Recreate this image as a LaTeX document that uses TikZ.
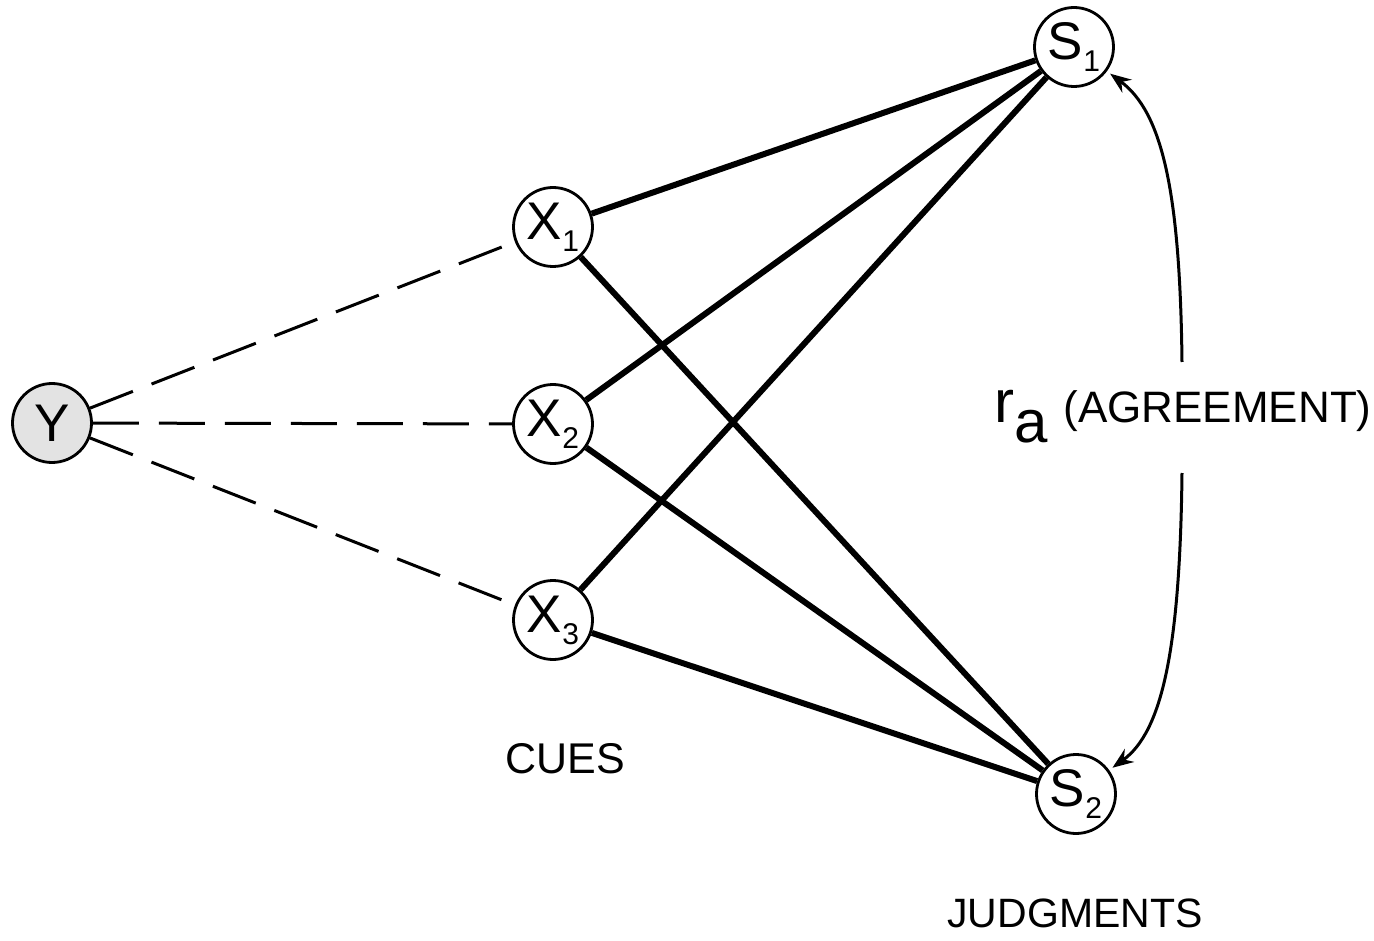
\documentclass[tikz,border=0pt]{standalone}
\usepackage{fontspec}
\setmainfont{Liberation Sans}
\usetikzlibrary{arrows.meta}
\newcommand\sublbl[2]{\fontsize{53}{53}\selectfont #1\raisebox{-12pt}{\fontsize{30}{30}\selectfont #2}}
\tikzset{
  cue/.style={circle, draw, line width=2.8pt, minimum size=79pt, inner sep=0pt, fill=white},
  crit/.style={cue, fill=gray!22},
  strong/.style={line width=6pt},
  weak/.style={line width=3pt, dash pattern=on 46pt off 20pt},
  txt/.style={inner sep=0pt, font=\fontsize{43}{43}\selectfont},
  agree/.style={-{Stealth[length=21pt,width=16pt,inset=7pt]}, line width=3pt}
}
\begin{document}
\begin{tikzpicture}[x=1pt,y=-1pt]
\useasboundingbox (0,0) rectangle (1374,941);
\node[crit] (Y) at (52,423) {\fontsize{53}{53}\selectfont Y};
\node[cue] (X1) at (553,227) {\sublbl{X}{1}};
\node[cue] (X2) at (553,424) {\sublbl{X}{2}};
\node[cue] (X3) at (553,620) {\sublbl{X}{3}};
\node[cue] (S1) at (1074,47) {\sublbl{S}{1}};
\node[cue] (S2) at (1076,794) {\sublbl{S}{2}};
\draw[weak] (Y) -- (X1);
\draw[weak] (Y) -- (X2);
\draw[weak] (Y) -- (X3);
\draw[strong] (X1) -- (S1);
\draw[strong] (X1) -- (S2);
\draw[strong] (X2) -- (S1);
\draw[strong] (X2) -- (S2);
\draw[strong] (X3) -- (S1);
\draw[strong] (X3) -- (S2);
\node[txt] (cues) at (565,759) {CUES};
\node[txt, font=\fontsize{41}{41}\selectfont] (judg) at (1075,913) {JUDGMENTS};
\node[inner sep=0pt, anchor=base west] (ra) at (994,422) {{\fontsize{60}{60}\selectfont r\raisebox{-20pt}{a}}\hspace{16pt}{\fontsize{44}{44}\selectfont (AGREEMENT)}};
\coordinate (ts) at (1182,362);
\coordinate (bs) at (1182,473);
\draw[agree, shorten >=4pt] (ts) .. controls (1180,190) and (1162,112) .. (S1);
\draw[agree, shorten >=4pt] (bs) .. controls (1180,650) and (1162,732) .. (S2);
\end{tikzpicture}
\end{document}
